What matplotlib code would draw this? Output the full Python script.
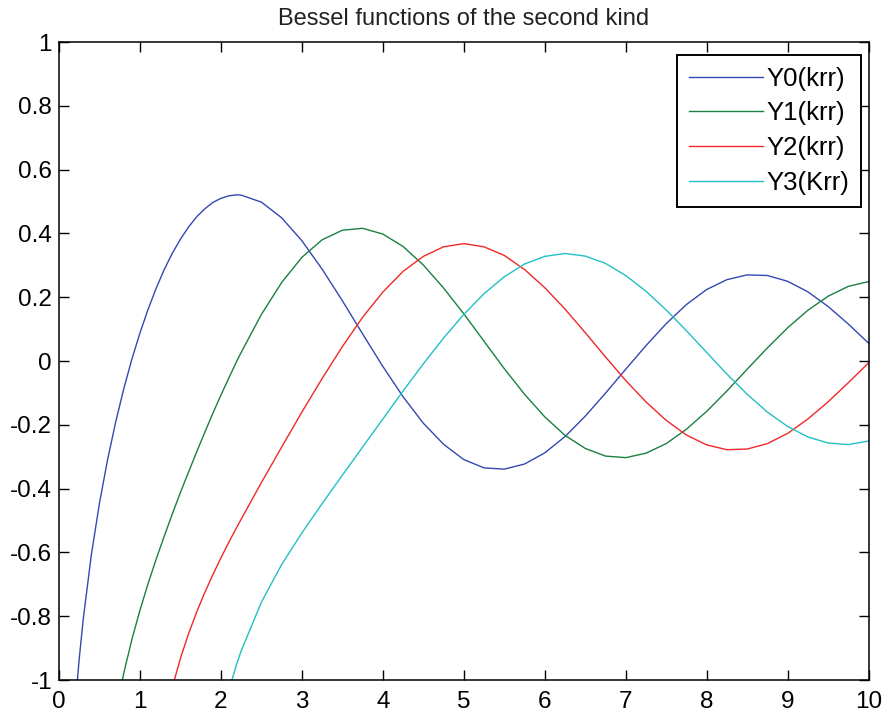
import matplotlib
matplotlib.use("Agg")
import matplotlib.pyplot as plt

# ---- data ----
x = [0.2, 0.25, 0.3, 0.4, 0.5, 0.6, 0.7, 0.8, 0.9, 1.0, 1.1, 1.2, 1.3, 1.4, 1.5,
     1.6, 1.7, 1.8, 1.9, 2.0, 2.1, 2.2, 2.25, 2.5, 2.75, 3.0, 3.25, 3.5, 3.75,
     4.0, 4.25, 4.5, 4.75, 5.0, 5.25, 5.5, 5.75, 6.0, 6.25, 6.5, 6.75, 7.0,
     7.25, 7.5, 7.75, 8.0, 8.25, 8.5, 8.75, 9.0, 9.25, 9.5, 9.75, 10.0]

y0 = [-1.081, -0.932, -0.807, -0.606, -0.445, -0.309, -0.191, -0.087, 0.006,
      0.088, 0.162, 0.228, 0.287, 0.338, 0.382, 0.420, 0.452, 0.477, 0.497,
      0.510, 0.518, 0.521, 0.520, 0.498, 0.449, 0.377, 0.288, 0.189, 0.085,
      -0.017, -0.112, -0.195, -0.261, -0.309, -0.335, -0.339, -0.323, -0.288,
      -0.237, -0.173, -0.101, -0.026, 0.048, 0.117, 0.177, 0.224, 0.255, 0.270,
      0.268, 0.250, 0.217, 0.171, 0.116, 0.056]

y1 = [-1.103, -0.978, -0.873, -0.781, -0.698, -0.621, -0.549, -0.479, -0.412,
      -0.348, -0.285, -0.224, -0.164, -0.107, -0.052, 0.002, 0.027, 0.146,
      0.246, 0.325, 0.380, 0.410, 0.416, 0.398, 0.359, 0.301, 0.229, 0.148,
      0.062, -0.024, -0.104, -0.175, -0.233, -0.274, -0.298, -0.303, -0.289,
      -0.259, -0.214, -0.158, -0.094, -0.026, 0.041, 0.104, 0.159, 0.203,
      0.234, 0.249]

y2 = [-1.263, -1.130, -1.022, -0.932, -0.855, -0.787, -0.726, -0.670, -0.617,
      -0.567, -0.519, -0.496, -0.381, -0.270, -0.160, -0.055, 0.045, 0.137,
      0.216, 0.281, 0.328, 0.358, 0.368, 0.358, 0.331, 0.287, 0.230, 0.163,
      0.089, 0.013, -0.061, -0.128, -0.186, -0.232, -0.263, -0.278, -0.276,
      -0.259, -0.227, -0.182, -0.128, -0.068, -0.006]

y3 = [-1.246, -1.128, -1.029, -0.946, -0.909, -0.756, -0.638, -0.539, -0.447,
      -0.358, -0.270, -0.182, -0.094, -0.009, 0.072, 0.146, 0.211, 0.264,
      0.304, 0.328, 0.337, 0.329, 0.306, 0.268, 0.219, 0.160, 0.095, 0.027,
      -0.041, -0.104, -0.160, -0.205, -0.238, -0.257, -0.262, -0.251]

series_labels = ["Y0(krr)", "Y1(krr)", "Y2(krr)", "Y3(Krr)"]
series_colors = ["#3348b4", "#1a8040", "#f02828", "#22c0c4"]

xticks = [0, 1, 2, 3, 4, 5, 6, 7, 8, 9, 10]
xtick_labels = ["0", "1", "2", "3", "4", "5", "6", "7", "8", "9", "10"]
yticks = [-1, -0.8, -0.6, -0.4, -0.2, 0, 0.2, 0.4, 0.6, 0.8, 1]
ytick_labels = ["-1", "-0.8", "-0.6", "-0.4", "-0.2", "0", "0.2", "0.4",
                "0.6", "0.8", "1"]
title = "Bessel functions of the second kind"

# ---- figure ----
plt.rcParams["font.family"] = ["Liberation Sans", "DejaVu Sans"]
plt.rcParams["axes.unicode_minus"] = False

fig = plt.figure(figsize=(8.85, 7.17), dpi=100)
ax = fig.add_axes([0.0667, 0.0516, 0.9147, 0.8898])

for ys, lab, col in zip([y0, y1, y2, y3], series_labels, series_colors):
    ax.plot(x[-len(ys):], ys, color=col, linewidth=1.0, label=lab)

ax.set_xlim(0, 10)
ax.set_ylim(-1, 1)
ax.set_xticks(xticks)
ax.set_xticklabels(xtick_labels)
ax.set_yticks(yticks)
ax.set_yticklabels(ytick_labels)

ax.tick_params(axis="both", direction="in", top=True, right=True,
               length=7, width=1, colors="black", labelsize=17.5)
ax.tick_params(axis="x", pad=8)
ax.tick_params(axis="y", pad=5)
for sp in ax.spines.values():
    sp.set_linewidth(1.1)
    sp.set_color("black")

ax.set_title(title, fontsize=17, pad=12, color="#222222")

leg = ax.legend(loc="upper right", bbox_to_anchor=(0.9907, 0.9796),
                borderaxespad=0, fontsize=18.5, handlelength=2.87,
                handletextpad=0.15, labelspacing=0.42, borderpad=0.45,
                fancybox=False, framealpha=1)
leg.get_frame().set_edgecolor("black")
leg.get_frame().set_linewidth(1.4)

fig.savefig("out.png", dpi=100)
